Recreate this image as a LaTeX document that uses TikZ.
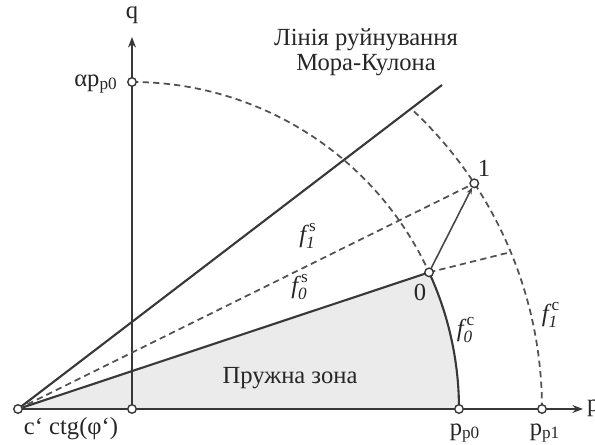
\documentclass[tikz,border=0pt]{standalone}
\usepackage{amsmath}
\usepackage{fontspec}
\setmainfont{Liberation Serif}
\usetikzlibrary{arrows.meta,positioning}

\newcommand{\flab}[2]{$\text{\itshape f}^{\,\text{#2}}_{\text{\itshape #1}}$}

\begin{document}
\begin{tikzpicture}[x=0.02cm,y=0.02cm,>=Stealth,
    line/.style={draw=black!78,line width=1.2pt},
    dline/.style={draw=black!68,line width=1pt,dash pattern=on 3.6pt off 2.4pt},
    pt/.style={circle,draw=black!78,fill=white,line width=0.8pt,inner sep=0pt,minimum size=0.17cm},
    every node/.style={font=\fontsize{14}{14.5}\selectfont,text=black!85}]
    \useasboundingbox (-132,-36) rectangle (463,409);

    % points
    \coordinate (O) at (0,0);
    \coordinate (C) at (-114,0);
    \coordinate (Pp0) at (327,0);
    \coordinate (Pp1) at (410,0);
    \coordinate (Aq) at (0,327);
    \coordinate (P0) at (24.7:327);
    \coordinate (P1) at (33.4:410);
    \coordinate (S1) at (22.5:410);
    \coordinate (MCend) at (310,324);
    \coordinate (qend) at (0,372);
    \coordinate (pend) at (451,0);

    % elastic zone
    \fill[black!8] (C) -- (P0) arc[start angle=24.7,end angle=0,radius=327] -- cycle;

    % axes
    \draw[line,-{Stealth[length=6pt,width=4.5pt]}] (C) -- (pend);
    \draw[line,-{Stealth[length=6pt,width=4.5pt]}] (O) -- (qend);

    % yield surfaces
    \draw[dline] (Aq) arc[start angle=90,end angle=24.7,radius=327];
    \draw[line] (P0) arc[start angle=24.7,end angle=0,radius=327];
    \draw[dline] (Pp1) arc[start angle=0,end angle=47.1,radius=410];
    \draw[line] (C) -- (MCend);
    \draw[line] (C) -- (P0);
    \draw[dline] (C) -- (P1);
    \draw[dline] (P0) -- (S1);
    \draw[draw=black!72,line width=0.9pt,-{Stealth[length=4pt,width=3pt]},shorten >=2.6pt] (P0) -- (P1);

    \foreach \p in {C,O,Pp0,Pp1,Aq,P0,P1}
        \node[pt] (n\p) at (\p) {};

    % labels
    \node (lq) at (0,394) {q};
    \node[anchor=west,inner sep=1pt] (lp) at (453,1) {p};
    \node (lAq) at (-36,325) {αp\textsubscript{p0}};
    \node (lC) at (-61,-20) {c` ctg(φ`)};
    \node (lPp0) at (333,-24) {p\textsubscript{p0}};
    \node (lPp1) at (413,-24) {p\textsubscript{p1}};
    \node (lP0) at (288,117) {0};
    \node (lP1) at (352,241) {1};
    \node (lf1s) at (176,173) {\flab{1}{s}};
    \node (lf0s) at (168,122) {\flab{0}{s}};
    \node (lf0c) at (334,79) {\flab{0}{c}};
    \node (lf1c) at (419,94) {\flab{1}{c}};
    \node[align=center] (lMC) at (234,357) {Лінія руйнування\\Мора-Кулона};
    \node (lzone) at (158,31) {Пружна зона};
\end{tikzpicture}
\end{document}
